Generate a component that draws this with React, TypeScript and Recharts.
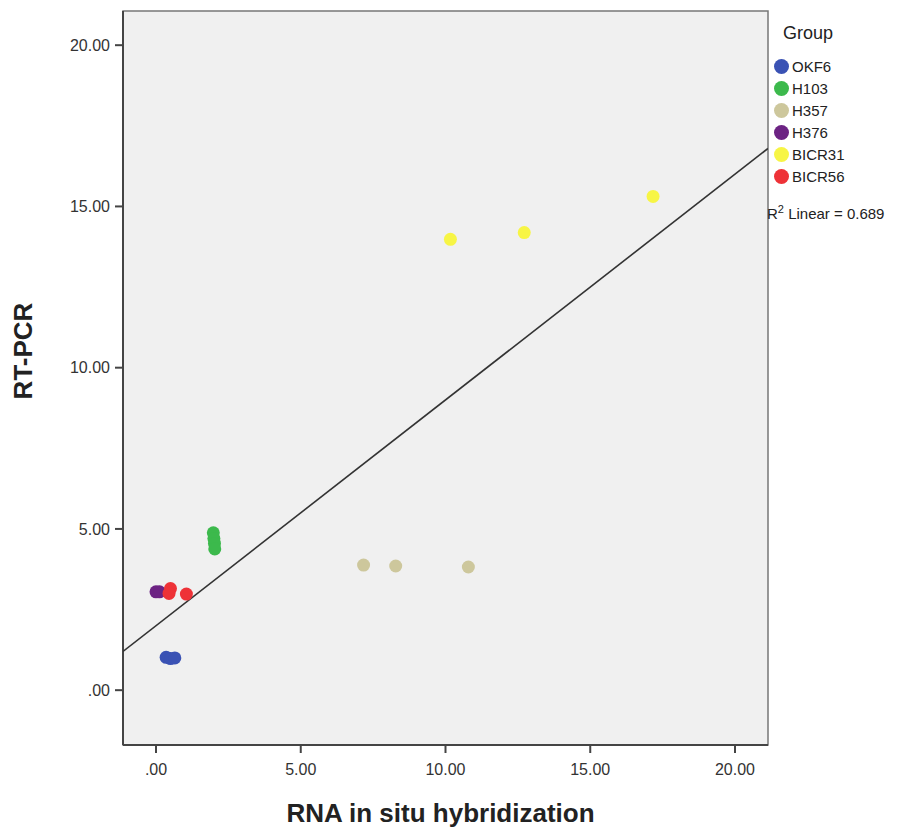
import {
  Legend,
  ReferenceArea,
  Scatter,
  ScatterChart,
  XAxis,
  YAxis,
} from "recharts";

const GROUPS = ["OKF6", "H103", "H357", "H376", "BICR31", "BICR56"];
const COLORS = ["#3a52b4", "#3cb94c", "#cdc79c", "#6c2383", "#f7f545", "#ee3237"];

// RNA in situ hybridization (x) and RT-PCR (y), per cell line
const OKF6_X = [0.35, 0.5, 0.65];
const OKF6_Y = [1.02, 0.98, 1.0];
const H103_X = [1.98, 2.0, 2.02, 2.03];
const H103_Y = [4.88, 4.7, 4.55, 4.38];
const H357_X = [7.17, 8.28, 10.79];
const H357_Y = [3.88, 3.85, 3.82];
const H376_X = [0.0, 0.12];
const H376_Y = [3.05, 3.05];
const BICR31_X = [10.17, 12.72, 17.17];
const BICR31_Y = [13.98, 14.19, 15.31];
const BICR56_X = [0.5, 0.45, 1.05];
const BICR56_Y = [3.15, 3.0, 2.98];

const SERIES_X = [OKF6_X, H103_X, H357_X, H376_X, BICR31_X, BICR56_X];
const SERIES_Y = [OKF6_Y, H103_Y, H357_Y, H376_Y, BICR31_Y, BICR56_Y];

const TICKS = [0, 5, 10, 15, 20];
const X_DOMAIN = [-1.14, 21.14];
const Y_DOMAIN = [-1.7, 21.06];

// fitted line, R2 linear = 0.689
const FIT_INTERCEPT = 2.0;
const FIT_SLOPE = 0.7;
const fitLine = X_DOMAIN.map((x) => ({ x, y: FIT_INTERCEPT + FIT_SLOPE * x }));

const font = "'Liberation Sans', Arial, sans-serif";
const fmt = (v: number) => (v === 0 ? ".00" : v.toFixed(2));

const Dot = (p: any) => <circle cx={p.cx} cy={p.cy} r={6.5} fill={p.fill} />;

function GroupLegend() {
  return (
    <div style={{ fontFamily: font, color: "#222" }}>
      <div style={{ fontSize: 18, marginLeft: 10, height: 32, lineHeight: "20px" }}>Group</div>
      {GROUPS.map((g, i) => (
        <div key={g} style={{ display: "flex", alignItems: "center", height: 22 }}>
          <span
            style={{
              width: 15,
              height: 15,
              borderRadius: 8,
              background: COLORS[i],
              marginRight: 3,
              marginLeft: 1,
            }}
          />
          <span style={{ fontSize: 15 }}>{g}</span>
        </div>
      ))}
      <div style={{ fontSize: 15, marginTop: 16, marginLeft: -6 }}>
        R<sup style={{ fontSize: 11 }}>2</sup> Linear = 0.689
      </div>
    </div>
  );
}

export default function App() {
  return (
    <div style={{ position: "absolute", left: 0, top: 0, background: "#fff" }}>
      <ScatterChart
        width={910}
        height={834}
        margin={{ top: 11, right: 142, bottom: 0, left: 0 }}
      >
        <ReferenceArea
          x1={X_DOMAIN[0]}
          x2={X_DOMAIN[1]}
          y1={Y_DOMAIN[0]}
          y2={Y_DOMAIN[1]}
          fill="#f0f0f0"
          fillOpacity={1}
          stroke="#777"
          strokeWidth={1.5}
        />
        <XAxis
          type="number"
          dataKey="x"
          domain={X_DOMAIN}
          ticks={TICKS}
          tickFormatter={fmt}
          allowDataOverflow
          height={89}
          tickSize={8}
          stroke="#444"
          strokeWidth={2}
          tick={{ fill: "#333", fontSize: 16, fontFamily: font, dy: 9 }}
          label={{
            content: ({ viewBox }: any) => (
              <text
                x={viewBox.x + viewBox.width / 2 - 5}
                y={822}
                textAnchor="middle"
                style={{ fontSize: 26, fontWeight: "bold", fill: "#222", fontFamily: font }}
              >
                RNA in situ hybridization
              </text>
            ),
          }}
        />
        <YAxis
          type="number"
          dataKey="y"
          domain={Y_DOMAIN}
          ticks={TICKS}
          tickFormatter={fmt}
          allowDataOverflow
          width={123}
          tickSize={8}
          stroke="#444"
          strokeWidth={2}
          tick={{ fill: "#333", fontSize: 16, fontFamily: font, dx: -3 }}
          label={{
            content: ({ viewBox }: any) => {
              const cy = viewBox.y + viewBox.height / 2 - 27;
              return (
                <text
                  x={23}
                  y={cy}
                  transform={`rotate(-90, 23, ${cy})`}
                  textAnchor="middle"
                  dominantBaseline="central"
                  style={{ fontSize: 26, fontWeight: "bold", fill: "#222", fontFamily: font }}
                >
                  RT-PCR
                </text>
              );
            },
          }}
        />
        <Scatter
          name="fit"
          data={fitLine}
          line={{ stroke: "#333", strokeWidth: 1.6 }}
          shape={() => <g />}
          legendType="none"
          isAnimationActive={false}
        />
        {GROUPS.map((g, i) => (
          <Scatter
            key={g}
            name={g}
            data={SERIES_X[i].map((x, j) => ({ x, y: SERIES_Y[i][j] }))}
            fill={COLORS[i]}
            shape={Dot}
            isAnimationActive={false}
          />
        ))}
        <Legend
          layout="horizontal"
          verticalAlign="middle"
          align="center"
          content={() => <GroupLegend />}
          wrapperStyle={{ left: 773, top: 23, width: 137, height: 210 }}
        />
      </ScatterChart>
    </div>
  );
}
